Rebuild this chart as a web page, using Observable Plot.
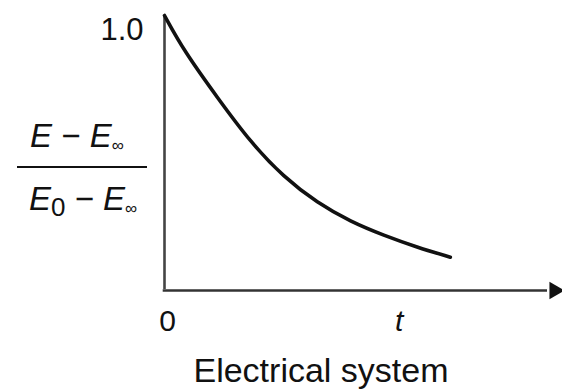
<!DOCTYPE html>
<html><head><meta charset="utf-8">
<script src="https://cdn.jsdelivr.net/npm/d3@7"></script>
<script src="https://cdn.jsdelivr.net/npm/@observablehq/plot@0.6"></script>
<style>
body{margin:0;background:#fff}
#chart svg{display:block;font-family:"Liberation Sans",Arial,Helvetica,sans-serif}
</style>
</head><body><div id="chart"></div>
<script>
// Values
const tValues     = [0,    0.49, 1.36, 2.20, 3.05, 3.91, 4.76, 5.61, 6.46, 7.31];
const ratioValues = [1.00, 0.873, 0.700, 0.539, 0.412, 0.318, 0.250, 0.200, 0.157, 0.121];
const yTicks = [1.0];
const yTickLabels = ["1.0"];
const xTicks = [0, 6.0];
const xTickLabels = ["0", "t"];
const caption = "Electrical system";
const xMax = 10;

const curveData = tValues.map((t, i) => ({t, r: ratioValues[i]}));
const yTickData = yTicks.map((v, i) => ({v, label: yTickLabels[i]}));
const xTickData = xTicks.map((v, i) => ({v, label: xTickLabels[i], italic: xTickLabels[i] === "t"}));

const ink = "#111";
const plot = Plot.plot({
  width: 562,
  height: 392,
  marginLeft: 164,
  marginRight: 7,
  marginTop: 15,
  marginBottom: 102,
  x: {domain: [0, xMax], axis: null},
  y: {domain: [0, 1], axis: null},
  marks: [
    Plot.ruleX([0], {y1: 0, y2: 1, stroke: "#444", strokeWidth: 2.6, insetTop: -1}),
    Plot.ruleY([0], {x1: 0, x2: xMax, stroke: "#333", strokeWidth: 2.6, insetRight: 8, insetLeft: -1.3}),
    Plot.dot([{x: xMax, y: 0}], {x: "x", y: "y", symbol: "triangle", rotate: 90, r: 6.5, fill: ink, stroke: "none", dx: -1}),
    Plot.line(curveData, {x: "t", y: "r", curve: "basis", stroke: ink, strokeWidth: 3.6}),
    Plot.text(yTickData, {x: 0, y: "v", text: "label", textAnchor: "end", dx: -21, dy: 15, fontSize: 31, fill: ink}),
    Plot.text(xTickData.filter(d => !d.italic), {x: "v", y: 0, text: "label", dx: 3, dy: 31, fontSize: 30, fill: ink}),
    Plot.text(xTickData.filter(d => d.italic), {x: "v", y: 0, text: "label", dx: 0, dy: 31, fontSize: 30, fontStyle: "italic", fill: ink}),
    Plot.text([caption], {frameAnchor: "bottom", lineAnchor: "middle", text: d => d, dx: -39, dy: 81, fontSize: 34, fill: ink})
  ]
});

// Fraction label for the y axis, built with real text (subscripts via tspans)
const svg = d3.select(plot);
const x0 = plot.scale("x").apply(0);
const g = svg.append("g").attr("fill", ink).attr("font-size", 33).attr("text-anchor", "start");
const num = g.append("text").attr("x", x0 - 134).attr("y", 147);
num.append("tspan").attr("font-style", "italic").text("E");
num.append("tspan").text(" \u2212 ");
num.append("tspan").attr("font-style", "italic").text("E");
num.append("tspan").attr("font-size", 17).attr("dy", 4).text("\u221e");
g.append("line").attr("x1", x0 - 147).attr("x2", x0 - 17).attr("y1", 167).attr("y2", 167)
  .attr("stroke", ink).attr("stroke-width", 2.2);
const den = g.append("text").attr("x", x0 - 135).attr("y", 210);
den.append("tspan").attr("font-style", "italic").text("E");
den.append("tspan").attr("font-size", 26).attr("dy", 6).text("0");
den.append("tspan").attr("dy", -6).text(" \u2212 ");
den.append("tspan").attr("font-style", "italic").text("E");
den.append("tspan").attr("font-size", 17).attr("dy", 4).text("\u221e");

document.getElementById("chart").appendChild(plot);
</script>
</body></html>
